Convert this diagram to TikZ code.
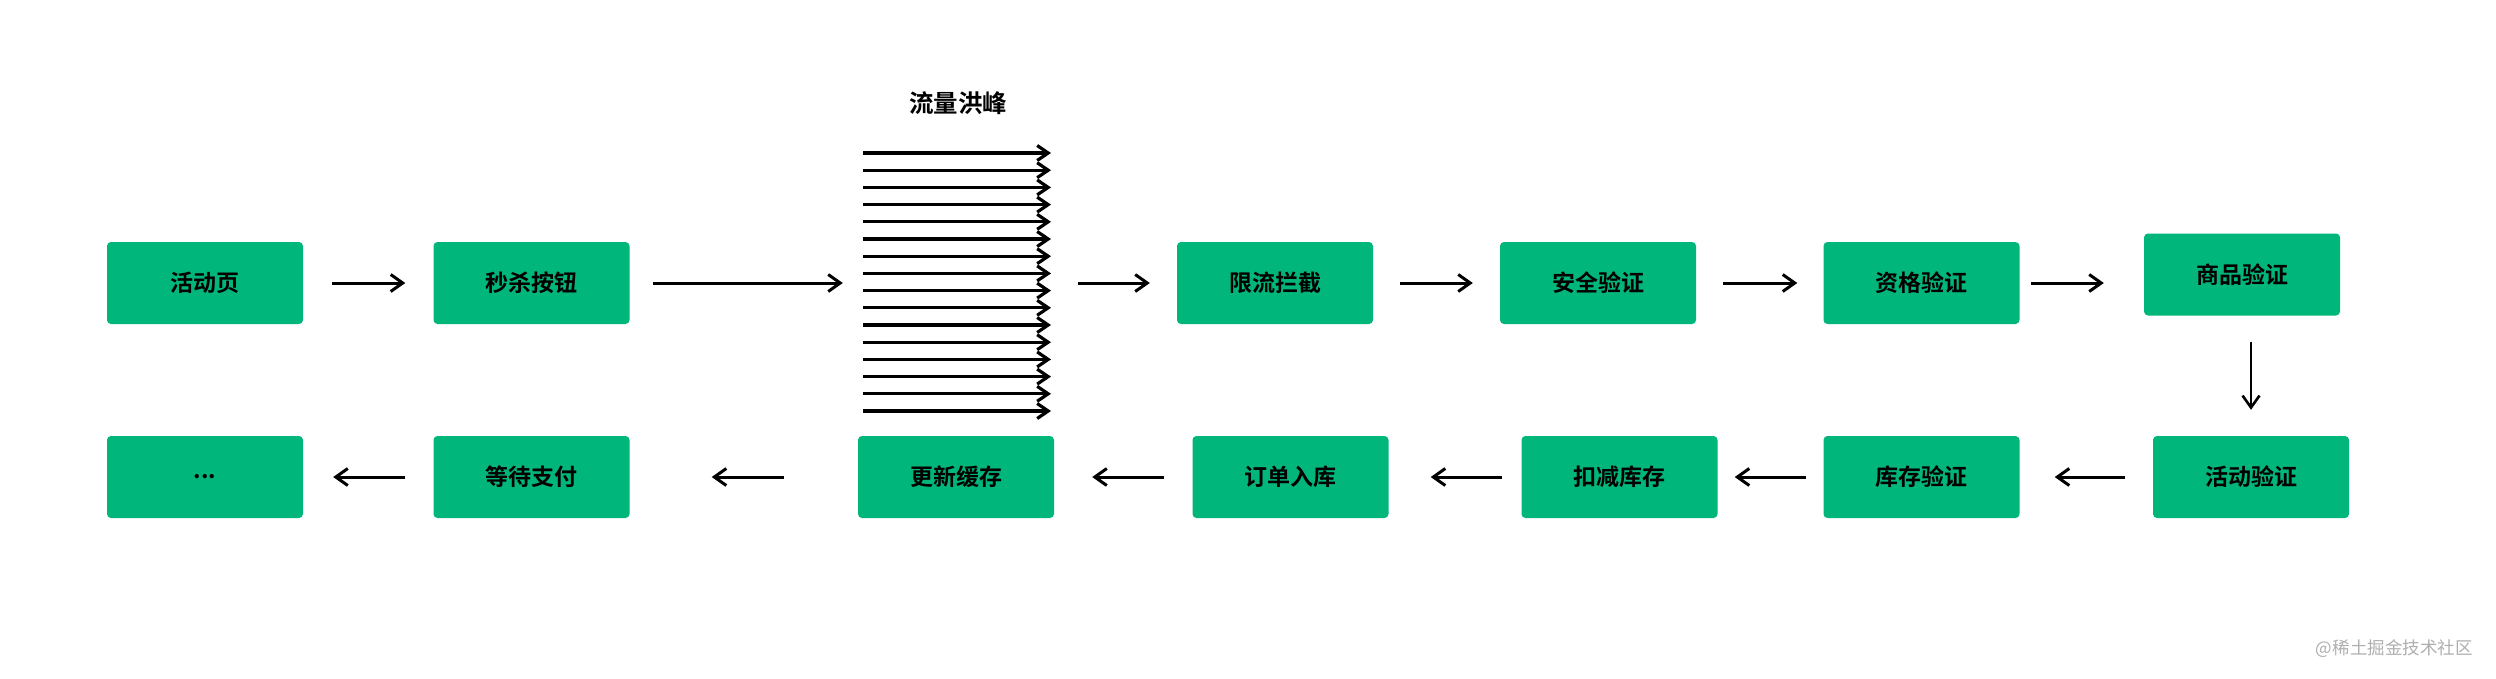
\documentclass[tikz,border=0pt]{standalone}
\usepackage{fontspec}
\newfontfamily\cjk{Noto Sans CJK SC}
\newfontfamily\cjkb{Noto Sans CJK SC Bold}
\usetikzlibrary{arrows.meta}
\definecolor{boxgreen}{RGB}{1,182,122}
\definecolor{wmgray}{RGB}{175,175,175}
\tikzset{
  box/.style={rectangle, rounded corners=4pt, fill=boxgreen, minimum width=196pt, minimum height=82pt, inner sep=0pt, font=\cjkb\fontsize{23}{25}\selectfont, text=black},
  arr/.style={line width=3pt, -{Straight Barb[length=12pt,width=17pt]}},
  flow/.style={line width=3.2pt, -{Straight Barb[length=11pt,width=15pt]}},
}
\begin{document}
\begin{tikzpicture}[x=1pt,y=-1pt]
\fill[white] (0,0) rectangle (2496,678);
\useasboundingbox (0,0) rectangle (2496,678);
% top row
\node[box] (a1) at (205,283) {活动页};
\node[box] (a2) at (531.5,283) {秒杀按钮};
\node[minimum width=187pt, minimum height=258pt, inner sep=0pt] (fl) at (956.5,282) {};
\node[box] (a3) at (1275,283) {限流拦截};
\node[box] (a4) at (1598,283) {安全验证};
\node[box] (a5) at (1921.5,283) {资格验证};
\node[box] (a6) at (2242,274.5) {商品验证};
% bottom row
\node[box] (b1) at (2251,477) {活动验证};
\node[box] (b2) at (1921.5,477) {库存验证};
\node[box] (b3) at (1619.5,477) {扣减库存};
\node[box] (b4) at (1290.5,477) {订单入库};
\node[box] (b5) at (956,477) {更新缓存};
\node[box] (b6) at (531.5,477) {等待支付};
\node[box] (b7) at (205,477) {...};
% title
\node[font=\cjkb\fontsize{24.5}{26}\selectfont] (title) at (958,103) {流量洪峰};
% flood lines
\foreach \i in {0,...,15}{
  \coordinate (fl\i) at (863,{153+17.2*\i});
  \coordinate (fr\i) at (1051,{153+17.2*\i});
  \draw[flow] (fl\i) -- (fr\i);
}
% arrows top
\draw[arr, shorten <=29pt, shorten >=28pt] (a1.east) -- (a2.west);
\draw[arr, shorten <=23pt, shorten >=20pt] (a2.east) -- (a2.east -| fl.west);
\draw[arr, shorten <=28pt, shorten >=27pt] (a3.west -| fl.east) -- (a3.west);
\draw[arr, shorten <=27pt, shorten >=27pt] (a3.east) -- (a4.west);
\draw[arr, shorten <=27pt, shorten >=26pt] (a4.east) -- (a5.west);
\draw[arr, shorten <=11pt, shorten >=40pt] (a5.east) -- (a5.east -| a6.west);
\draw[arr, line width=2.6pt, shorten <=26pt, shorten >=26pt] (b1.north |- a6.south) -- (b1.north);
% arrows bottom
\draw[arr, shorten <=28pt, shorten >=35pt] (b1.west) -- (b2.east);
\draw[arr, shorten <=17pt, shorten >=17pt] (b2.west) -- (b3.east);
\draw[arr, shorten <=19pt, shorten >=42pt] (b3.west) -- (b4.east);
\draw[arr, shorten <=28pt, shorten >=38pt] (b4.west) -- (b5.east);
\draw[arr, shorten <=74pt, shorten >=82pt] (b5.west) -- (b6.east);
\draw[arr, shorten <=28pt, shorten >=30pt] (b6.west) -- (b7.east);
% watermark
\node[font=\cjk\fontsize{17.5}{19}\selectfont, text=wmgray, anchor=east] (wm) at (2476,649) {@稀土掘金技术社区};
\end{tikzpicture}
\end{document}
